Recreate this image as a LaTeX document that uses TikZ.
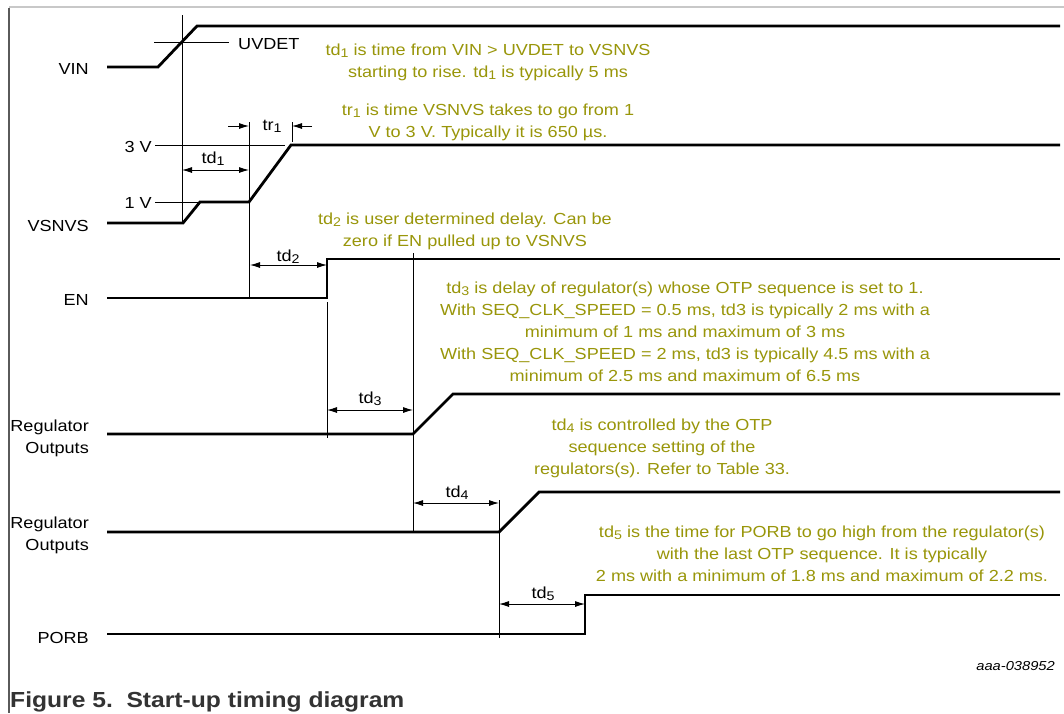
\documentclass[tikz,border=0pt]{standalone}
\usepackage{fontspec}
\setmainfont{Liberation Sans}[FakeStretch=1.13]
\usetikzlibrary{arrows.meta}
\definecolor{olivetext}{RGB}{153,150,10}
\definecolor{captiongray}{RGB}{51,51,51}
\definecolor{framegray}{RGB}{200,200,200}
\definecolor{edgegray}{RGB}{90,90,90}
\newcommand\lowsub[1]{\raisebox{-2.6pt}{\fontsize{12.6}{12.6}\selectfont #1}}
\begin{document}
\begin{tikzpicture}[x=1pt,y=-1pt,
  sig/.style={line width=2.8pt,line join=miter},
  guide/.style={line width=0.9pt},
  dim/.style={line width=0.9pt,{Latex[length=10pt,width=6pt]}-{Latex[length=10pt,width=6pt]}},
  pointer/.style={line width=0.9pt,-{Latex[length=10pt,width=6pt]}},
  note/.style={text=olivetext,font=\fontsize{16}{22}\selectfont,inner sep=0pt,anchor=base},
  lbl/.style={font=\fontsize{16}{22}\selectfont,inner sep=0pt,anchor=base east},
  dimlbl/.style={font=\fontsize{16}{22}\selectfont,inner sep=0pt,anchor=base},
]
\useasboundingbox (0,0) rectangle (1064,713);
\fill[white] (0,0) rectangle (1064,713);
% frame
\draw[framegray,line width=2pt] (9,6.5) -- (1064,6.5);
\draw[edgegray,line width=1.3pt] (9,7.5) -- (9,713);

% signal names
\node[lbl] (nvin) at (89,74) {VIN};
\node[lbl] (nvsnvs) at (89,231) {VSNVS};
\node[lbl] (nen) at (89,305) {EN};
\node[lbl] (nreg1) at (89,431) {\begin{tabular}[t]{@{}r@{}}Regulator\\Outputs\end{tabular}};
\node[lbl] (nreg2) at (89,528) {\begin{tabular}[t]{@{}r@{}}Regulator\\Outputs\end{tabular}};
\node[lbl] (nporb) at (89,643) {PORB};
\node[lbl] (n3v) at (152,152) {3 V};
\node[lbl] (n1v) at (152,208) {1 V};
\node[dimlbl,anchor=base west] (nuvdet) at (238,49) {UVDET};

% guide lines
\draw[guide] (154,42) -- (229,42);
\draw[guide] (155,145) -- (285,145);
\draw[guide] (155,202) -- (200,202);
\draw[guide] (182,15) -- (182,223);
\draw[guide] (249,122) -- (249,298);
\draw[guide] (292,122) -- (292,142);
\draw[guide] (327,302) -- (327,438);
\draw[guide] (413,253) -- (413,533);
\draw[guide] (499,500) -- (499,638);

% signals
\draw[sig] (107,67) -- (158,67) -- (197,26) -- (1060,26);
\draw[sig] (107,223) -- (183,223) -- (200,202) -- (249,202) -- (291,145) -- (1060,145);
\draw[sig] (107,298) -- (327,298) -- (327,259) -- (1060,259);
\draw[sig] (107,434) -- (413,434) -- (453,394) -- (1060,394);
\draw[sig] (107,532) -- (499,532) -- (539,492) -- (1060,492);
\draw[sig] (107,634) -- (585,634) -- (585,595) -- (1060,595);

% dimension arrows
\coordinate (a1l) at (182,170); \coordinate (a1r) at (249,170);
\draw[dim] (a1l) -- (a1r);
\node[dimlbl] (ltd1) at (213,163) {td\lowsub{1}};
\coordinate (t1a) at (228,126); \coordinate (t1b) at (249,126);
\coordinate (t1c) at (312,126); \coordinate (t1d) at (292,126);
\draw[pointer] (t1a) -- (t1b);
\draw[pointer] (t1c) -- (t1d);
\node[dimlbl] (ltr1) at (272,130) {tr\lowsub{1}};
\coordinate (a2l) at (250,265); \coordinate (a2r) at (327,265);
\draw[dim] (a2l) -- (a2r);
\node[dimlbl] (ltd2) at (288,261) {td\lowsub{2}};
\coordinate (a3l) at (327,410); \coordinate (a3r) at (413,410);
\draw[dim] (a3l) -- (a3r);
\node[dimlbl] (ltd3) at (370,403) {td\lowsub{3}};
\coordinate (a4l) at (413,503); \coordinate (a4r) at (499,503);
\draw[dim] (a4l) -- (a4r);
\node[dimlbl] (ltd4) at (457,497) {td\lowsub{4}};
\coordinate (a5l) at (499,604); \coordinate (a5r) at (585,604);
\draw[dim] (a5l) -- (a5r);
\node[dimlbl] (ltd5) at (543,598) {td\lowsub{5}};

% notes
\node[note] (c1) at (488,55) {\begin{tabular}[t]{@{}c@{}}td\lowsub{1} is time from VIN > UVDET to VSNVS\\starting to rise. td\lowsub{1} is typically 5 ms\end{tabular}};
\node[note] (c2) at (488,115) {\begin{tabular}[t]{@{}c@{}}tr\lowsub{1} is time VSNVS takes to go from 1\\V to 3 V. Typically it is 650 µs.\end{tabular}};
\node[note] (c3) at (465,224) {\begin{tabular}[t]{@{}c@{}}td\lowsub{2} is user determined delay. Can be\\zero if EN pulled up to VSNVS\end{tabular}};
\node[note] (c4) at (685,293) {\begin{tabular}[t]{@{}c@{}}td\lowsub{3} is delay of regulator(s) whose OTP sequence is set to 1.\\With SEQ\_CLK\_SPEED = 0.5 ms, td3 is typically 2 ms with a\\minimum of 1 ms and maximum of 3 ms\\With SEQ\_CLK\_SPEED = 2 ms, td3 is typically 4.5 ms with a\\minimum of 2.5 ms and maximum of 6.5 ms\end{tabular}};
\node[note] (c5) at (662,430) {\begin{tabular}[t]{@{}c@{}}td\lowsub{4} is controlled by the OTP\\sequence setting of the\\regulators(s). Refer to Table 33.\end{tabular}};
\node[note] (c6) at (822,537) {\begin{tabular}[t]{@{}c@{}}td\lowsub{5} is the time for PORB to go high from the regulator(s)\\with the last OTP sequence. It is typically\\2 ms with a minimum of 1.8 ms and maximum of 2.2 ms.\end{tabular}};

% id and caption
\node[inner sep=0pt,anchor=base east,font=\fontsize{13}{15}\selectfont\itshape] (fid) at (1055,670) {aaa-038952};
\node[inner sep=0pt,anchor=base west,text=captiongray,font=\fontsize{21.8}{24}\selectfont\bfseries] (cap) at (10,707) {Figure 5.\ \ Start-up timing diagram};
\end{tikzpicture}
\end{document}
